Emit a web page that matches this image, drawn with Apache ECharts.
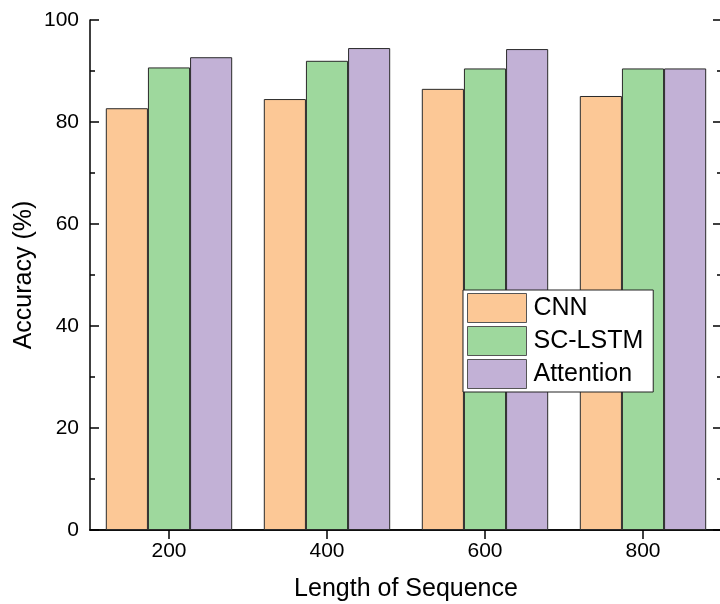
<!DOCTYPE html>
<html>
<head>
<meta charset="utf-8">
<script src="https://cdn.jsdelivr.net/npm/echarts@6/dist/echarts.min.js"></script>
<style>html,body{margin:0;padding:0;background:#fff;overflow:hidden;width:720px;height:604px}#c{position:absolute;left:0;top:0;width:720px;height:604px}</style>
</head>
<body>
<div id="c"></div>
<script>
const categories = ['200', '400', '600', '800'];
const cnn = [82.7, 84.5, 86.5, 85.1];
const sclstm = [90.7, 92.0, 90.5, 90.5];
const attention = [92.7, 94.5, 94.3, 90.5];
const yTicks = [0, 20, 40, 60, 80, 100];

const FONT = 'Liberation Sans, Arial, sans-serif';
const chart = echarts.init(document.getElementById('c'), null, {renderer: 'canvas', width: 720, height: 604});
const axisLine = {show: true, lineStyle: {color: '#000', width: 1.5}};
const tick = {show: true, inside: true, length: 9, lineStyle: {color: '#000', width: 1.5}};
const minor = {show: true, splitNumber: 2, length: 5, lineStyle: {color: '#000', width: 1.5}};

function mkSeries(name, data, color) {
  return {
    name, type: 'bar', data, barGap: '0%', barCategoryGap: '20%',
    itemStyle: {color, borderColor: '#2a2a2a', borderWidth: 1}
  };
}

chart.setOption({
  animation: false,
  textStyle: {fontFamily: FONT},
  grid: {left: 90, right: -2, top: 20, bottom: 74, containLabel: false, outerBoundsMode: 'none'},
  legend: {
    orient: 'vertical', left: 463, top: 290,
    padding: [3, 10, 3, 4], itemGap: 3, itemWidth: 59, itemHeight: 29,
    borderColor: '#222', borderWidth: 1, backgroundColor: '#fff',
    icon: 'rect',
    textStyle: {fontSize: 25, color: '#000', fontFamily: FONT, padding: [0, 0, 0, 2]},
    itemStyle: {borderColor: '#555', borderWidth: 1},
    data: ['CNN', 'SC-LSTM', 'Attention']
  },
  xAxis: [{
    type: 'category', data: categories, position: 'bottom',
    axisLine, axisTick: Object.assign({alignWithLabel: true}, tick),
    axisLabel: {fontSize: 21, color: '#000', margin: 11, fontFamily: FONT},
    name: 'Length of Sequence', nameLocation: 'middle', nameGap: 47, nameMoveOverlap: false,
    nameTextStyle: {fontSize: 25, color: '#000', fontFamily: FONT},
    splitLine: {show: false}
  }, {
    type: 'category', data: categories, position: 'top',
    axisLine, axisTick: Object.assign({alignWithLabel: true}, tick),
    axisLabel: {show: false}, splitLine: {show: false}
  }],
  yAxis: [{
    type: 'value', min: yTicks[0], max: yTicks[yTicks.length - 1], interval: 20,
    position: 'left',
    axisLine, axisTick: tick, minorTick: minor,
    axisLabel: {fontSize: 21, color: '#000', margin: 11, fontFamily: FONT},
    name: 'Accuracy (%)', nameLocation: 'middle', nameGap: 53, nameMoveOverlap: false,
    nameTextStyle: {fontSize: 25, color: '#000', fontFamily: FONT},
    splitLine: {show: false}
  }, {
    type: 'value', min: yTicks[0], max: yTicks[yTicks.length - 1], interval: 20,
    position: 'right',
    axisLine, axisTick: tick, minorTick: minor,
    axisLabel: {show: false}, splitLine: {show: false}
  }],
  series: [
    mkSeries('CNN', cnn, '#FCC896'),
    mkSeries('SC-LSTM', sclstm, '#9ED89D'),
    mkSeries('Attention', attention, '#C2B1D6')
  ]
});
</script>
</body>
</html>
